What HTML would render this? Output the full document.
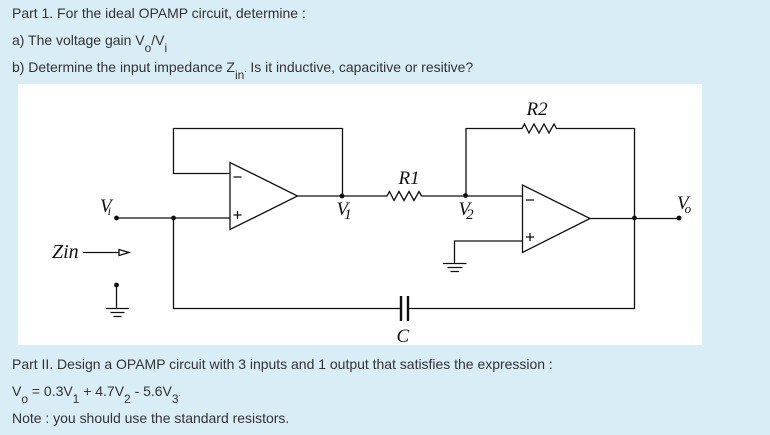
<!DOCTYPE html>
<html><head><meta charset="utf-8">
<style>
html,body{margin:0;padding:0}
body{width:770px;height:435px;overflow:hidden;background:#d9edf7;position:relative;font-family:"Liberation Sans",sans-serif}
.t{position:absolute;left:12px;font-size:14px;line-height:16px;color:#333;white-space:nowrap;letter-spacing:-0.012px}
.t sub{font-size:12px;line-height:0;vertical-align:-7px}
svg{position:absolute;left:0;top:0}
svg text{font-family:"Liberation Serif",serif;font-style:italic;fill:#111}
</style></head><body>
<div class="t" style="top:5px">Part 1. For the ideal OPAMP circuit, determine :</div>
<div class="t" style="top:32px">a) The voltage gain V<sub>o</sub>/V<sub>i</sub></div>
<div class="t" style="top:59px">b) Determine the input impedance Z<sub>in</sub><span style="font-size:8px">.</span> Is it inductive, capacitive or resitive?</div>
<svg width="770" height="435" viewBox="0 0 770 435">
<rect x="18" y="84" width="684" height="261" fill="#fff"/>
<g fill="none" stroke="#111" stroke-width="1.3">
<path d="M230 173.500H173.500V128.500H342.500V196"/>
<path d="M230 162.500V229.500L297.500 196Z"/>
<path d="M297.500 196H387L389.500 191.500L394 200.500L399 191.500L404 200.500L409 191.500L414 200.500L419 191.500L421.500 196H522"/>
<path d="M116.500 218H230"/>
<path d="M173.500 218V308.500H400M409 308.500H634.500V128.500H556.500L554 124L549 133L544 124L539 133L534 124L529 133L524.500 124L522 128.500H466V196"/>
<path d="M522.500 185V252.500L590 218.500Z"/>
<path d="M590 218.500H679"/>
<path d="M522 241H454.500V263"/>
<path d="M116.500 285V308"/>
<path d="M83 252.500H119"/>
<path d="M119 249.500L129 252.500L119 255.500Z"/>
<path d="M106 308.500H129M110.500 312.500H124.500M113.500 316.500H121.500"/>
<path d="M443 263.500H466.500M447.500 267.500H462.500M450.500 271.500H459"/>
<path d="M233.500 177H241.500M233.500 215H241.500M237.500 211V219"/>
<path d="M526 200H534M526 237H534M530 233V241"/>
</g>
<g stroke="#111" stroke-width="2.400"><path d="M401 296V321M408 296V321"/></g>
<g fill="#111">
<circle cx="116.500" cy="218" r="2.400"/><circle cx="173.500" cy="218" r="2.400"/><circle cx="342" cy="196" r="2.400"/>
<circle cx="465.500" cy="195.500" r="2.400"/><circle cx="634.500" cy="218" r="2.400"/><circle cx="679" cy="218" r="2.400"/><circle cx="116.500" cy="285" r="2.400"/>
</g>
<text x="526.500" y="115" font-size="19">R2</text>
<text x="398.500" y="184" font-size="19">R1</text>
<text x="52" y="258" font-size="20">Zin</text>
<text x="396.500" y="342" font-size="19">C</text>
<text x="100" y="212" font-size="19">V<tspan font-size="12" dx="-4" dy="3">i</tspan></text>
<text x="336.500" y="215" font-size="19">V<tspan font-size="15" dx="-4" dy="4">1</tspan></text>
<text x="458.500" y="215" font-size="19">V<tspan font-size="15" dx="-4" dy="4">2</tspan></text>
<text x="677" y="209" font-size="19">V<tspan font-size="13" dx="-4" dy="4">o</tspan></text>
</svg>
<div class="t" style="top:356px">Part II. Design a OPAMP circuit with 3 inputs and 1 output that satisfies the expression :</div>
<div class="t" style="top:383px">V<sub>o</sub> = 0.3V<sub>1</sub> + 4.7V<sub>2</sub> - 5.6V<sub>3</sub><span style="font-size:8px">.</span></div>
<div class="t" style="top:410px">Note : you should use the standard resistors.</div>
</body></html>
